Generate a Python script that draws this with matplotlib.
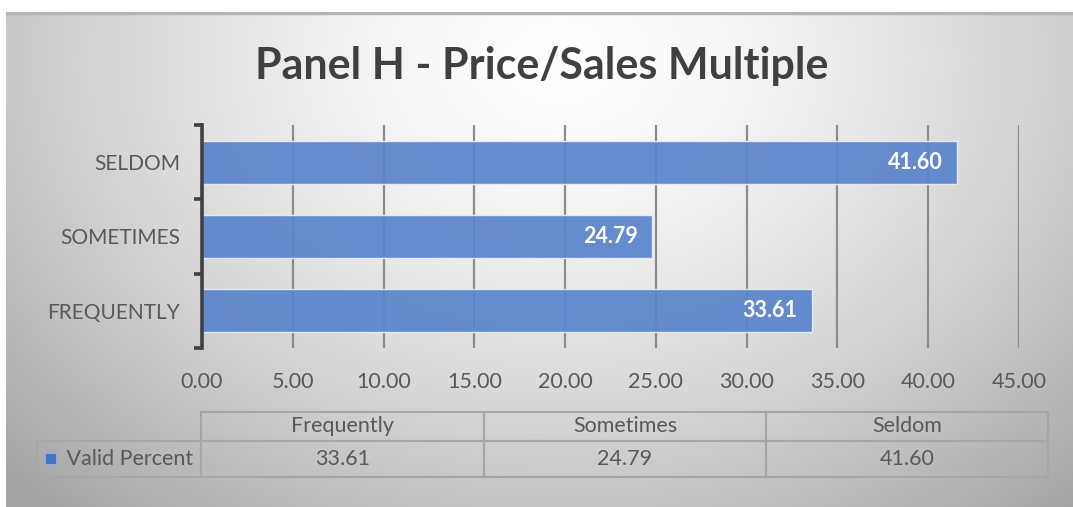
import numpy as np
import matplotlib
matplotlib.use("Agg")
import matplotlib.pyplot as plt
from matplotlib.table import Table
from matplotlib.patches import Rectangle

# ---- data -------------------------------------------------------------
categories = ["FREQUENTLY", "SOMETIMES", "SELDOM"]
table_headers = ["Frequently", "Sometimes", "Seldom"]
series_name = "Valid Percent"
values = [33.61, 24.79, 41.60]
x_ticks = [0, 5, 10, 15, 20, 25, 30, 35, 40, 45]
title = "Panel H - Price/Sales Multiple"

W, H = 1073, 507
DPI = 100
FONT = "Lato"
BAR_COLOR = "#5A84CB"
TEXT_GREY = "#595959"

plt.rcParams["font.family"] = [FONT, "DejaVu Sans"]

fig = plt.figure(figsize=(W / DPI, H / DPI), dpi=DPI, facecolor="white")


def fx(px):
    return px / W


def fy(py):
    return 1 - py / H


# ---- radial grey background of the chart area ---------------------------
frame_l, frame_r, frame_t, frame_b = 6, 1073, 12, 507
bg = fig.add_axes([fx(frame_l), fy(frame_b), fx(frame_r - frame_l),
                   (frame_b - frame_t) / H], zorder=0)
nx, ny = 600, 300
xx, yy = np.meshgrid(np.linspace(0, 1, nx), np.linspace(0, 1, ny))
d = np.sqrt(((xx - 0.52) / 0.6) ** 2 + ((yy - 0.1) / 1.0) ** 2)
shade = 1.0 - 0.27 * np.clip(d, 0, 1.2) ** 1.5
bg.imshow(np.dstack([shade] * 3), aspect="auto", extent=(0, 1, 1, 0),
          interpolation="bilinear")
bg.plot([0, 1], [0.003, 0.003], color="#B4B4B4", lw=2.5)
bg.set_xlim(0, 1)
bg.set_ylim(1, 0)
bg.axis("off")

# ---- title --------------------------------------------------------------
fig.text(fx(542), fy(66), title, ha="center", va="center",
         fontsize=31, fontweight="bold", color="#404040", zorder=5)

# ---- bar chart ----------------------------------------------------------
ax = fig.add_axes([fx(202), fy(348), fx(1019 - 202), (348 - 125) / H],
                  zorder=2)
ax.patch.set_alpha(0)
ypos = np.arange(len(categories))
ax.set_xlim(x_ticks[0], x_ticks[-1])
ax.set_ylim(-0.5, len(categories) - 0.5)
ax.set_xticks(x_ticks)
ax.set_xticklabels([f"{t:.2f}" for t in x_ticks])
ax.grid(axis="x", color="#8C8C8C", lw=1.6, zorder=0)
ax.set_axisbelow(True)

bars = ax.barh(ypos, values, height=0.58, color=BAR_COLOR, alpha=0.93,
               edgecolor="#E8EEF8", linewidth=1.0, zorder=2)
for b, v in zip(bars, values):
    ax.text(v - 0.8, b.get_y() + b.get_height() / 2, f"{v:.2f}",
            ha="right", va="center", color="white", fontsize=15.5,
            fontweight="bold", zorder=3)

for side in ("top", "right", "bottom"):
    ax.spines[side].set_visible(False)
ax.spines["left"].set_color("#404040")
ax.spines["left"].set_linewidth(2.6)

# category labels sit between the boundary ticks
ax.set_yticks(ypos)
ax.set_yticklabels(categories)
ax.set_yticks(np.arange(-0.5, len(categories)), minor=True)
ax.tick_params(axis="y", which="major", length=0, pad=16,
               labelsize=15, labelcolor=TEXT_GREY)
ax.tick_params(axis="y", which="minor", length=6, width=2.6,
               color="#404040", direction="out")
ax.tick_params(axis="x", length=0, pad=17, labelsize=15.5,
               labelcolor=TEXT_GREY)

# ---- data table ---------------------------------------------------------
tab_ax = fig.add_axes([0, 0, 1, 1], zorder=3)
tab_ax.patch.set_alpha(0)
tab_ax.set_xlim(0, W)
tab_ax.set_ylim(H, 0)
tab_ax.axis("off")

col_edges = [37, 201, 484, 766, 1048]
row_edges = [412, 441, 477]
table = Table(tab_ax, bbox=[fx(37), fy(477), fx(1048 - 37),
                            (477 - 412) / H])
edge = "#A6A6A6"
widths = np.diff(col_edges)
heights = np.diff(row_edges)
for j, head in enumerate(table_headers):
    c = table.add_cell(0, j + 1, width=widths[j + 1], height=heights[0],
                       text=head, loc="center", facecolor="none",
                       edgecolor=edge)
    c.set_linewidth(1.5)
c = table.add_cell(1, 0, width=widths[0], height=heights[1],
                   text="     " + series_name, loc="left",
                   facecolor="none", edgecolor=edge)
c.set_linewidth(1.5)
for j, v in enumerate(values):
    c = table.add_cell(1, j + 1, width=widths[j + 1], height=heights[1],
                       text=f"{v:.2f}", loc="center", facecolor="none",
                       edgecolor=edge)
    c.set_linewidth(1.5)
table.auto_set_font_size(False)
for cell in table.get_celld().values():
    cell.get_text().set_fontsize(15.5)
    cell.get_text().set_color(TEXT_GREY)
    cell.PAD = 0.01
tab_ax.add_table(table)

# legend key inside the series-name cell
tab_ax.add_patch(Rectangle((45, 453), 11, 11, facecolor="#4472C4",
                           edgecolor="#8FAADC", lw=0.8, zorder=4))

fig.savefig("out.png", dpi=DPI, facecolor="white")
